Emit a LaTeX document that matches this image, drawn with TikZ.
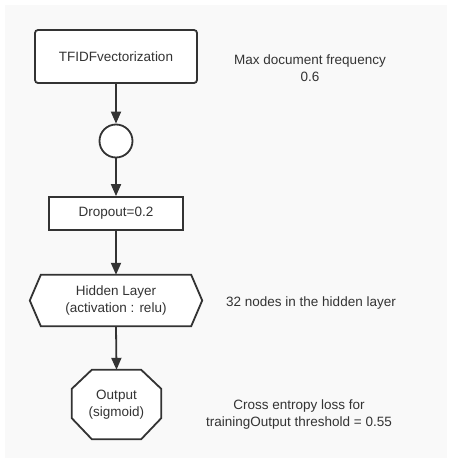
\documentclass[tikz,border=0pt]{standalone}
\usepackage{fontspec}
\setmainfont{Liberation Sans}
\usetikzlibrary{arrows.meta,calc}
\definecolor{ink}{HTML}{333333}
\definecolor{paper}{HTML}{F9F9F9}
\begin{document}
\begin{tikzpicture}[x=1pt,y=-1pt,
  font=\fontsize{13.5}{17}\selectfont,
  every node/.style={text=ink,align=center,inner sep=0pt},
  outline/.style={draw=ink,line width=1.8pt,fill=white},
  boxshape/.style={outline,rectangle},
  frame/.style={rectangle,minimum width=#1},
  link/.style={draw=ink,line width=1.8pt,-{Triangle[length=12pt,width=10pt]}},
  note/.style={text=ink}]
  % canvas
  \fill[white] (0,0) rectangle (452,463);
  \fill[paper] (5,5) rectangle (447,458);
  \useasboundingbox (0,0) rectangle (452,463);

  % main column
  \node[boxshape,rounded corners=3pt,minimum width=162pt,minimum height=53pt] (tfidf) at (116,56.5) {TFIDFvectorization};
  \node[outline,circle,minimum size=33pt] (join) at (116,141) {};
  \node[boxshape,minimum width=134pt,minimum height=33pt] (drop) at (116,213.5) {Dropout=0.2};

  % hidden layer: hexagon drawn round an invisible frame
  \node[rectangle,minimum width=172pt,minimum height=51pt] (hid) at (116,300.5) {};
  \draw[outline] (hid.west) -- ($(hid.north west)+(11,0)$) -- ($(hid.north east)+(-11,0)$)
    -- (hid.east) -- ($(hid.south east)+(-11,0)$) -- ($(hid.south west)+(11,0)$) -- cycle;
  \node at (hid.center) {Hidden Layer\\(activation : relu)};

  % output: octagon drawn round an invisible frame
  \node[rectangle,minimum width=89pt,minimum height=69pt] (out) at (116.5,404.5) {};
  \draw[outline] ($(out.north west)+(20,0)$) -- ($(out.north east)+(-20,0)$)
    -- ($(out.north east)+(0,19)$) -- ($(out.south east)+(0,-21)$)
    -- ($(out.south east)+(-20,0)$) -- ($(out.south west)+(20,0)$)
    -- ($(out.south west)+(0,-21)$) -- ($(out.north west)+(0,19)$) -- cycle;
  \node at (out.center) {Output\\(sigmoid)};

  % connectors
  \draw[link] (tfidf.south) -- (join.north);
  \draw[link] (join.south) -- (drop.north);
  \draw[link] (drop.south) -- (hid.north);
  \draw[link] (hid.south) -- (out.north);

  % side notes
  \node[note] (n1) at (310,68.5) {Max document frequency\\0.6};
  \node[note] (n2) at (311,303) {32 nodes in the hidden layer};
  \node[note] (n3) at (299,415) {Cross entropy loss for\\trainingOutput threshold = 0.55};
\end{tikzpicture}
\end{document}
